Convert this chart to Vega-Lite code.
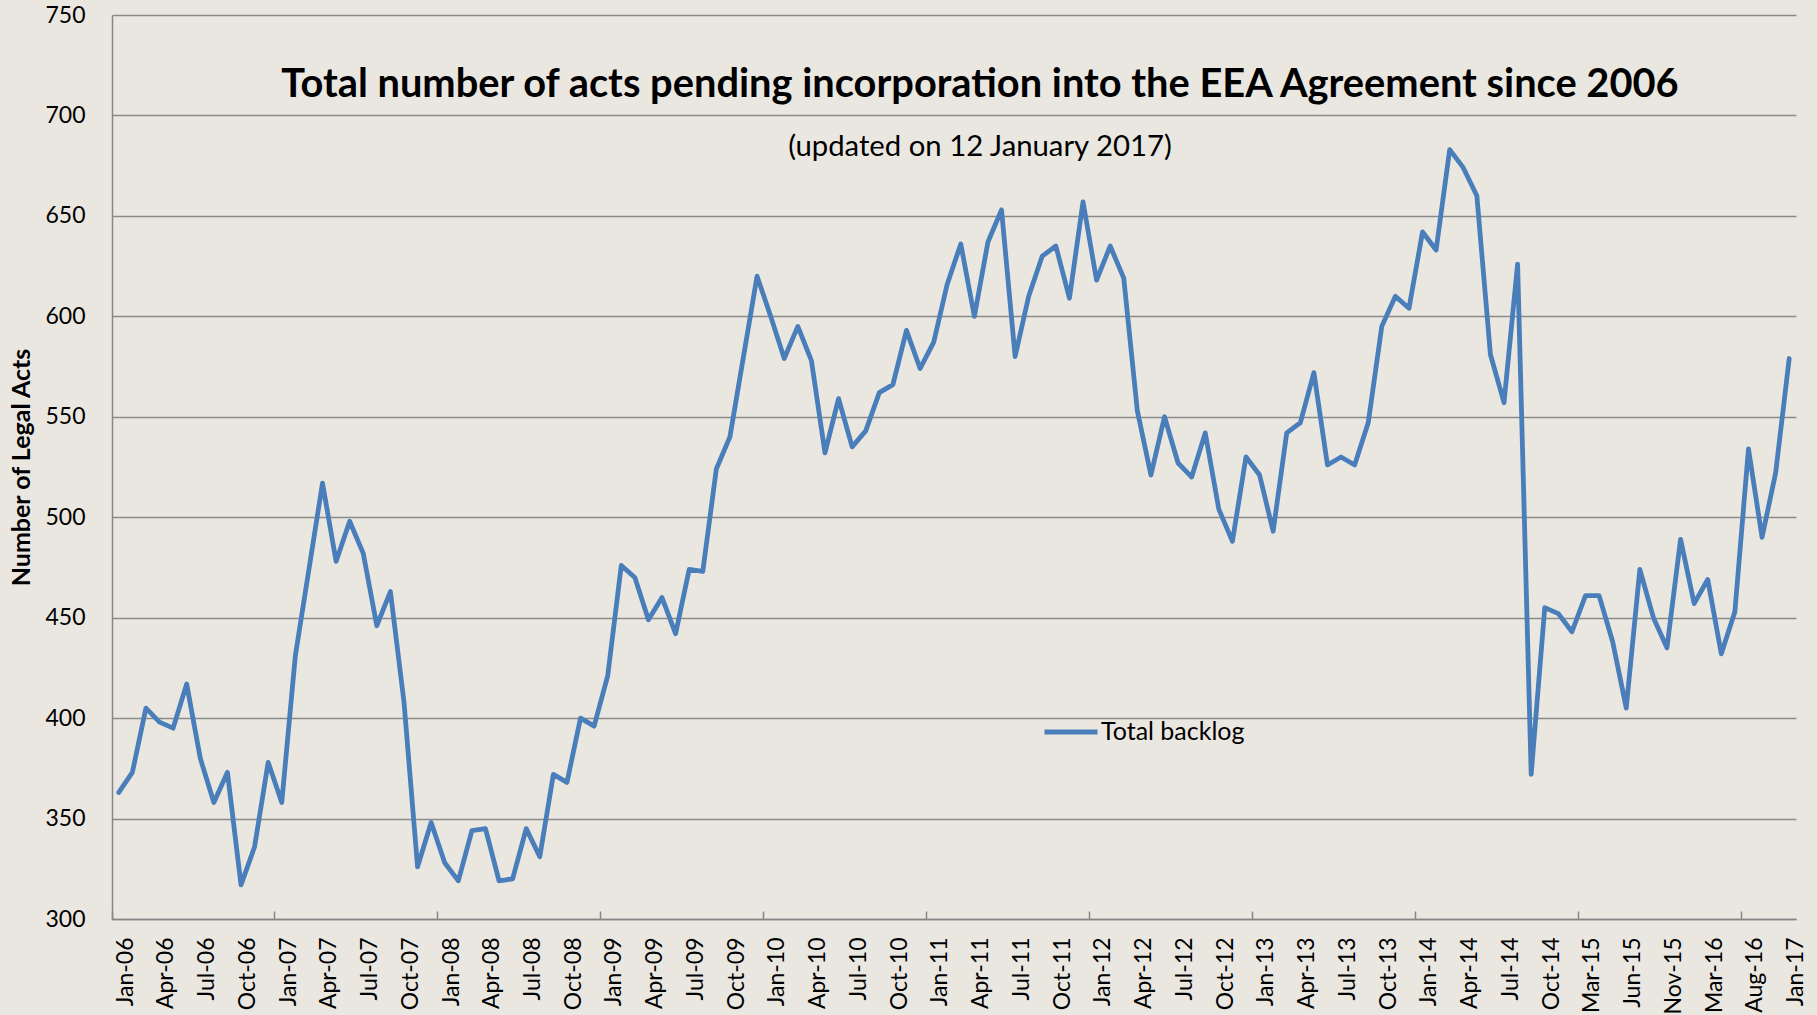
{
  "$schema": "https://vega.github.io/schema/vega-lite/v6.json",
  "autosize": {"type": "none"},
  "padding": {"left": 112, "top": 15, "right": 21, "bottom": 96},
  "width": 1684,
  "height": 904,
  "background": "#EAE7E1",
  "title": {
    "text": "Total number of acts pending incorporation into the EEA Agreement since 2006",
    "subtitle": "(updated on 12 January 2017)",
    "anchor": "middle",
    "orient": "top",
    "offset": -159,
    "dx": 26,
    "font": "Lato",
    "fontSize": 39.8,
    "fontWeight": "bold",
    "color": "#000000",
    "subtitleFont": "Lato",
    "subtitleFontSize": 29.3,
    "subtitleColor": "#000000",
    "subtitlePadding": 27
  },
  "data": {
    "values": [
      {"m": "Jan-06", "v": 363}, {"m": "Feb-06", "v": 373}, {"m": "Mar-06", "v": 405}, {"m": "Apr-06", "v": 398},
      {"m": "May-06", "v": 395}, {"m": "Jun-06", "v": 417}, {"m": "Jul-06", "v": 380}, {"m": "Aug-06", "v": 358},
      {"m": "Sep-06", "v": 373}, {"m": "Oct-06", "v": 317}, {"m": "Nov-06", "v": 336}, {"m": "Dec-06", "v": 378},
      {"m": "Jan-07", "v": 358}, {"m": "Feb-07", "v": 431}, {"m": "Mar-07", "v": 474}, {"m": "Apr-07", "v": 517},
      {"m": "May-07", "v": 478}, {"m": "Jun-07", "v": 498}, {"m": "Jul-07", "v": 482}, {"m": "Aug-07", "v": 446},
      {"m": "Sep-07", "v": 463}, {"m": "Oct-07", "v": 408}, {"m": "Nov-07", "v": 326}, {"m": "Dec-07", "v": 348},
      {"m": "Jan-08", "v": 328}, {"m": "Feb-08", "v": 319}, {"m": "Mar-08", "v": 344}, {"m": "Apr-08", "v": 345},
      {"m": "May-08", "v": 319}, {"m": "Jun-08", "v": 320}, {"m": "Jul-08", "v": 345}, {"m": "Aug-08", "v": 331},
      {"m": "Sep-08", "v": 372}, {"m": "Oct-08", "v": 368}, {"m": "Nov-08", "v": 400}, {"m": "Dec-08", "v": 396},
      {"m": "Jan-09", "v": 421}, {"m": "Feb-09", "v": 476}, {"m": "Mar-09", "v": 470}, {"m": "Apr-09", "v": 449},
      {"m": "May-09", "v": 460}, {"m": "Jun-09", "v": 442}, {"m": "Jul-09", "v": 474}, {"m": "Aug-09", "v": 473},
      {"m": "Sep-09", "v": 524}, {"m": "Oct-09", "v": 540}, {"m": "Nov-09", "v": 580}, {"m": "Dec-09", "v": 620},
      {"m": "Jan-10", "v": 600}, {"m": "Feb-10", "v": 579}, {"m": "Mar-10", "v": 595}, {"m": "Apr-10", "v": 578},
      {"m": "May-10", "v": 532}, {"m": "Jun-10", "v": 559}, {"m": "Jul-10", "v": 535}, {"m": "Aug-10", "v": 543},
      {"m": "Sep-10", "v": 562}, {"m": "Oct-10", "v": 566}, {"m": "Nov-10", "v": 593}, {"m": "Dec-10", "v": 574},
      {"m": "Jan-11", "v": 587}, {"m": "Feb-11", "v": 616}, {"m": "Mar-11", "v": 636}, {"m": "Apr-11", "v": 600},
      {"m": "May-11", "v": 637}, {"m": "Jun-11", "v": 653}, {"m": "Jul-11", "v": 580}, {"m": "Aug-11", "v": 610},
      {"m": "Sep-11", "v": 630}, {"m": "Oct-11", "v": 635}, {"m": "Nov-11", "v": 609}, {"m": "Dec-11", "v": 657},
      {"m": "Jan-12", "v": 618}, {"m": "Feb-12", "v": 635}, {"m": "Mar-12", "v": 619}, {"m": "Apr-12", "v": 553},
      {"m": "May-12", "v": 521}, {"m": "Jun-12", "v": 550}, {"m": "Jul-12", "v": 527}, {"m": "Aug-12", "v": 520},
      {"m": "Sep-12", "v": 542}, {"m": "Oct-12", "v": 504}, {"m": "Nov-12", "v": 488}, {"m": "Dec-12", "v": 530},
      {"m": "Jan-13", "v": 521}, {"m": "Feb-13", "v": 493}, {"m": "Mar-13", "v": 542}, {"m": "Apr-13", "v": 547},
      {"m": "May-13", "v": 572}, {"m": "Jun-13", "v": 526}, {"m": "Jul-13", "v": 530}, {"m": "Aug-13", "v": 526},
      {"m": "Sep-13", "v": 547}, {"m": "Oct-13", "v": 595}, {"m": "Nov-13", "v": 610}, {"m": "Dec-13", "v": 604},
      {"m": "Jan-14", "v": 642}, {"m": "Feb-14", "v": 633}, {"m": "Mar-14", "v": 683}, {"m": "Apr-14", "v": 674},
      {"m": "May-14", "v": 660}, {"m": "Jun-14", "v": 581}, {"m": "Jul-14", "v": 557}, {"m": "Aug-14", "v": 626},
      {"m": "Sep-14", "v": 372}, {"m": "Oct-14", "v": 455}, {"m": "Dec-14", "v": 452}, {"m": "Feb-15", "v": 443},
      {"m": "Mar-15", "v": 461}, {"m": "Apr-15", "v": 461}, {"m": "May-15", "v": 438}, {"m": "Jun-15", "v": 405},
      {"m": "Jul-15", "v": 474}, {"m": "Sep-15", "v": 450}, {"m": "Nov-15", "v": 435}, {"m": "Dec-15", "v": 489},
      {"m": "Feb-16", "v": 457}, {"m": "Mar-16", "v": 469}, {"m": "May-16", "v": 432}, {"m": "Jun-16", "v": 453},
      {"m": "Aug-16", "v": 534}, {"m": "Sep-16", "v": 490}, {"m": "Nov-16", "v": 522}, {"m": "Jan-17", "v": 579}
    ]
  },
  "mark": {"type": "line", "strokeWidth": 4.8, "strokeJoin": "round", "strokeCap": "round"},
  "encoding": {
    "x": {
      "field": "m",
      "type": "ordinal",
      "sort": null,
      "bandPosition": 0.5,
      "scale": {"type": "band", "paddingInner": 0, "paddingOuter": 0},
      "axis": {
        "title": null,
        "values": ["Jan-06","Apr-06","Jul-06","Oct-06","Jan-07","Apr-07","Jul-07","Oct-07","Jan-08","Apr-08","Jul-08","Oct-08","Jan-09","Apr-09","Jul-09","Oct-09","Jan-10","Apr-10","Jul-10","Oct-10","Jan-11","Apr-11","Jul-11","Oct-11","Jan-12","Apr-12","Jul-12","Oct-12","Jan-13","Apr-13","Jul-13","Oct-13","Jan-14","Apr-14","Jul-14","Oct-14","Mar-15","Jun-15","Nov-15","Mar-16","Aug-16","Jan-17"],
        "bandPosition": 0,
        "labelOffset": 6.8,
        "labelAngle": -90,
        "labelFont": "Lato",
        "labelFontSize": 23,
        "labelColor": "#000000",
        "labelPadding": 26,
        "labelOverlap": false,
        "labelBound": false,
        "labelFlush": false,
        "ticks": true,
        "tickSize": -8,
        "tickWidth": 1.5,
        "tickColor": "#868686",
        "tickOpacity": {
          "condition": {"test": "indexof(['Jan-06','Jan-07','Jan-08','Jan-09','Jan-10','Jan-11','Jan-12','Jan-13','Jan-14','Mar-15','Aug-16'], datum.value) >= 0", "value": 1},
          "value": 0
        },
        "domainColor": "#868686",
        "domainWidth": 1.5,
        "grid": false
      }
    },
    "y": {
      "field": "v",
      "type": "quantitative",
      "scale": {"domain": [300, 750], "nice": false, "zero": false},
      "axis": {
        "title": "Number of Legal Acts",
        "titleFont": "Lato",
        "titleFontSize": 25,
        "titleFontWeight": "bold",
        "titleColor": "#000000",
        "titleX": -91,
        "titleAngle": -90,
        "titleBaseline": "middle",
        "values": [300, 350, 400, 450, 500, 550, 600, 650, 700, 750],
        "labelFont": "Lato",
        "labelFontSize": 23,
        "labelColor": "#000000",
        "labelPadding": 27,
        "ticks": false,
        "domainColor": "#868686",
        "domainWidth": 1.5,
        "grid": true,
        "gridColor": "#8A8A8A",
        "gridWidth": 1.4
      }
    },
    "color": {
      "datum": "Total backlog",
      "scale": {"range": ["#4A7EBB"]},
      "legend": {
        "title": null,
        "orient": "none",
        "legendX": 930,
        "legendY": 688,
        "symbolType": "stroke",
        "symbolSize": 2809,
        "symbolStrokeWidth": 4.8,
        "labelFont": "Lato",
        "labelFontSize": 25,
        "labelColor": "#000000",
        "labelOffset": 1,
        "padding": 0
      }
    }
  },
  "config": {"view": {"stroke": null}}
}
